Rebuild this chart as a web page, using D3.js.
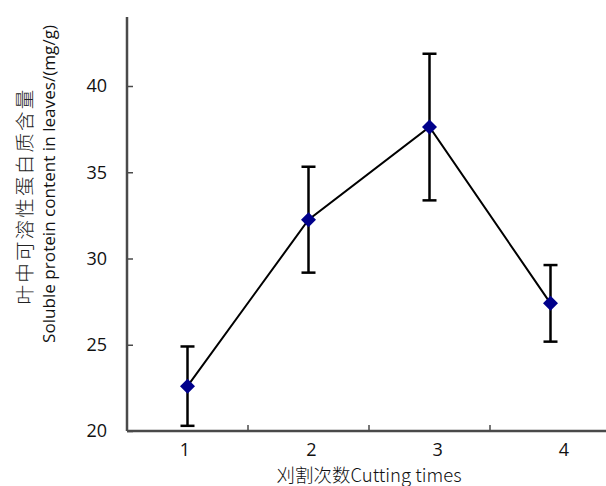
<!DOCTYPE html>
<html><head><meta charset="utf-8">
<script src="https://cdn.jsdelivr.net/npm/d3@7"></script>
<style>body{margin:0;background:#fff}svg{display:block}</style>
</head><body><svg id="c" width="606" height="486"></svg>
<script>
const categories = ["1", "2", "3", "4"];
const means = [22.6, 32.25, 37.62, 27.4];
const errors = [2.3, 3.07, 4.25, 2.22];
const yTicks = [20, 25, 30, 35, 40];
const yTitleCN = "叶中可溶性蛋白质含量";
const yTitleEN = "Soluble protein content in leaves/(mg/g)";
const xTitle = "刈割次数Cutting times";

const svg = d3.select("#c");
const x = d3.scaleBand().domain(categories).range([127, 611]);
const xLab = d3.scalePoint().domain(categories).range([185, 564]);
const y = d3.scaleLinear().domain([20, 44]).range([431, 17]);
const axisColor = "#4a4a4a";
const font = "'Open Sans', 'Liberation Sans', sans-serif";

// y axis ticks (inward)
const gy = svg.append("g").attr("transform", "translate(127,0)")
  .call(d3.axisRight(y).tickValues(yTicks).tickSize(6).tickFormat(""));
gy.select(".domain").remove();
gy.selectAll("line").attr("stroke", axisColor).attr("stroke-width", 1.5);
svg.append("line").attr("x1", 127).attr("x2", 127).attr("y1", y(44)).attr("y2", y(20))
  .attr("stroke", axisColor).attr("stroke-width", 2.5);
// y tick labels
svg.append("g").selectAll("text").data(yTicks).join("text")
  .attr("x", 107).attr("y", d => y(d)).attr("dy", "0.36em")
  .attr("text-anchor", "end").attr("font-family", font).attr("font-size", 18)
  .attr("fill", "#111").text(d => d);

// x axis line
svg.append("line").attr("x1", 127).attr("x2", 606).attr("y1", y(20)).attr("y2", y(20))
  .attr("stroke", axisColor).attr("stroke-width", 2.5);
// x ticks at band boundaries (inward)
svg.append("g").selectAll("line").data(categories.slice(1)).join("line")
  .attr("x1", d => x(d)).attr("x2", d => x(d))
  .attr("y1", y(20)).attr("y2", y(20) - 6)
  .attr("stroke", axisColor).attr("stroke-width", 1.5);
// x labels
svg.append("g").selectAll("text").data(categories).join("text")
  .attr("x", d => xLab(d)).attr("y", 456)
  .attr("text-anchor", "middle").attr("font-family", font).attr("font-size", 18)
  .attr("fill", "#111").text(d => d);

// titles
svg.append("text").attr("x", 369).attr("y", 482).attr("text-anchor", "middle")
  .attr("font-family", "'Noto Sans CJK SC', " + font).attr("font-size", 18.5)
  .attr("font-weight", 300).attr("fill", "#111").text(xTitle);
svg.append("text").attr("transform", "translate(32,196) rotate(-90)")
  .attr("text-anchor", "middle").attr("font-family", "'Noto Sans CJK SC'")
  .attr("font-weight", 300).attr("font-size", 19.5).attr("letter-spacing", 2.2)
  .attr("fill", "#222").text(yTitleCN);
svg.append("text").attr("transform", "translate(55,184) rotate(-90)")
  .attr("text-anchor", "middle").attr("font-family", font).attr("font-size", 16.5)
  .attr("textLength", 318).attr("lengthAdjust", "spacingAndGlyphs")
  .attr("fill", "#111").text(yTitleEN);

const cx = d => x(d) + x.bandwidth() / 2;
const data = categories.map((c, i) => ({c, m: means[i], e: errors[i]}));

// line
svg.append("path").datum(data)
  .attr("d", d3.line().x(d => cx(d.c)).y(d => y(d.m)))
  .attr("fill", "none").attr("stroke", "#000").attr("stroke-width", 2);

// error bars
const eb = svg.append("g").attr("stroke", "#000").attr("stroke-width", 2.5);
eb.selectAll(".v").data(data).join("line")
  .attr("x1", d => cx(d.c)).attr("x2", d => cx(d.c))
  .attr("y1", d => y(d.m - d.e)).attr("y2", d => y(d.m + d.e));
eb.selectAll(".t").data(data).join("line")
  .attr("x1", d => cx(d.c) - 7).attr("x2", d => cx(d.c) + 7)
  .attr("y1", d => y(d.m + d.e)).attr("y2", d => y(d.m + d.e));
eb.selectAll(".b").data(data).join("line")
  .attr("x1", d => cx(d.c) - 7).attr("x2", d => cx(d.c) + 7)
  .attr("y1", d => y(d.m - d.e)).attr("y2", d => y(d.m - d.e));

// markers
svg.append("g").selectAll("path").data(data).join("path")
  .attr("transform", d => `translate(${cx(d.c)},${y(d.m)})`)
  .attr("d", "M0,-7.5L7.5,0L0,7.5L-7.5,0Z")
  .attr("fill", "#00008B");
</script></body></html>
